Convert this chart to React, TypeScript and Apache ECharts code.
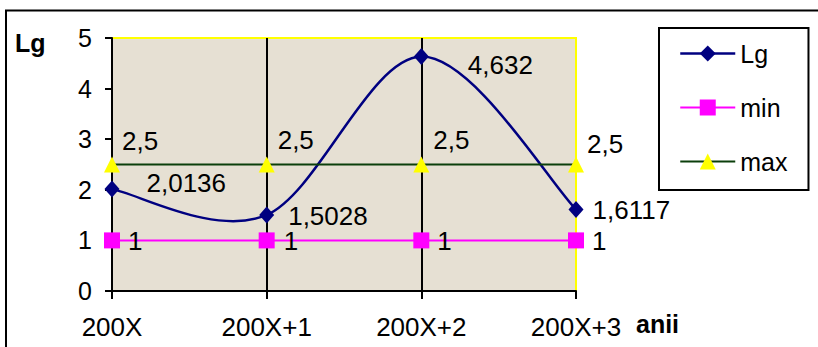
import React, { useEffect, useRef } from "react";
import * as echarts from "echarts";

const categories = ["200X", "200X+1", "200X+2", "200X+3"];
const lgValues = [2.0136, 1.5028, 4.632, 1.6117];
const minValues = [1, 1, 1, 1];
const maxValues = [2.5, 2.5, 2.5, 2.5];
const yTicks = [0, 1, 2, 3, 4, 5];

const lgLabelOffsets = [[27, -6], [14, 1], [39, 8], [9, 1]];
const minLabelOffsets = [[8, 1], [9, 1], [8, 1], [8, 1]];
const maxLabelOffsets = [[2, -24], [3, -25], [4, -25], [3, -21]];

const FONT = "'Liberation Sans', Arial, sans-serif";
const fmt = (v: number) => String(v).replace(".", ",");

function mk(values: number[], offsets: number[][]) {
  return values.map((v, i) => ({
    value: v,
    label: { offset: offsets[i] },
  }));
}

export default function App() {
  const ref = useRef<HTMLDivElement>(null);
  useEffect(() => {
    if (!ref.current) return;
    const chart = echarts.init(ref.current, undefined, { renderer: "svg" });
    const labelBase = {
      show: true,
      position: "right" as const,
      distance: 0,
      color: "#000",
      fontSize: 26,
      lineHeight: 21,
      fontFamily: FONT,
      formatter: (p: any) => fmt(p.value),
    };
    const n = lgValues.length;
    chart.setOption({
      animation: false,
      backgroundColor: "#fff",
      textStyle: { fontFamily: FONT },
      grid: {
        left: 112,
        right: 242,
        top: 38,
        bottom: 56,
        show: true,
        backgroundColor: "#E6E0D3",
        borderColor: "#FFFF00",
        borderWidth: 2,
      },
      legend: {
        orient: "vertical",
        left: 659,
        top: 28,
        padding: [13, 21, 16, 20],
        itemWidth: 55,
        itemHeight: 20,
        itemGap: 29,
        borderColor: "#000",
        borderWidth: 2,
        textStyle: { fontSize: 25, fontFamily: FONT, color: "#000" },
        data: [
          { name: "Lg", lineStyle: { color: "#000080", width: 2.5, opacity: 1 } },
          { name: "min" },
          { name: "max" },
        ],
      },
      xAxis: {
        type: "category",
        data: categories,
        boundaryGap: false,
        axisLine: { show: true, lineStyle: { color: "#000", width: 2 } },
        axisTick: { show: true, length: 8, lineStyle: { color: "#000", width: 2 } },
        axisLabel: { fontSize: 26, fontFamily: FONT, color: "#000", margin: 23 },
        splitLine: {
          show: true,
          lineStyle: { color: ["#000", "#000", "#000", "#FFFF00"], width: 2 },
        },
        z: 3,
      },
      yAxis: {
        type: "value",
        min: yTicks[0],
        max: yTicks[yTicks.length - 1],
        interval: 1,
        axisLine: { show: true, lineStyle: { color: "#000", width: 2 } },
        axisTick: { show: true, length: 7, lineStyle: { color: "#000", width: 2 } },
        axisLabel: { fontSize: 25, fontFamily: FONT, color: "#000", margin: 20 },
        splitLine: { show: false },
        z: 3,
      },
      graphic: [
        {
          type: "rect",
          shape: { x: 6, y: 10.5, width: 1000, height: 600 },
          style: { fill: "none", stroke: "#000", lineWidth: 2 },
          silent: true,
          z: 100,
        },
        {
          type: "text",
          x: 15,
          y: 43,
          style: {
            text: "Lg",
            font: "bold 25px " + FONT,
            fill: "#000",
            verticalAlign: "middle",
          } as any,
          z: 100,
        },
        {
          type: "text",
          x: 636,
          y: 324,
          style: {
            text: "anii",
            font: "bold 25px " + FONT,
            fill: "#000",
            verticalAlign: "middle",
          } as any,
          z: 100,
        },
      ],
      series: [
        {
          name: "Lg curve",
          type: "custom",
          coordinateSystem: "cartesian2d",
          data: lgValues.map((v, i) => [i, v]),
          encode: { x: 0, y: 1 },
          silent: true,
          z: 4,
          renderItem: (params: any, api: any) => {
            const i = params.dataIndex;
            if (i >= n - 1) return null;
            const pt = (j: number) => {
              const k = Math.max(0, Math.min(n - 1, j));
              return api.coord([k, lgValues[k]]);
            };
            const p0 = pt(i - 1);
            const p1 = pt(i);
            const p2 = pt(i + 1);
            const p3 = pt(i + 2);
            return {
              type: "bezierCurve",
              shape: {
                x1: p1[0],
                y1: p1[1],
                x2: p2[0],
                y2: p2[1],
                cpx1: p1[0] + (p2[0] - p0[0]) / 6,
                cpy1: p1[1] + (p2[1] - p0[1]) / 6,
                cpx2: p2[0] - (p3[0] - p1[0]) / 6,
                cpy2: p2[1] - (p3[1] - p1[1]) / 6,
              },
              style: { stroke: "#000080", lineWidth: 2.5, fill: "none" },
            };
          },
        },
        {
          name: "min",
          type: "line",
          data: mk(minValues, minLabelOffsets),
          symbol: "rect",
          symbolSize: 16,
          lineStyle: { color: "#FF00FF", width: 2 },
          itemStyle: { color: "#FF00FF" },
          label: labelBase,
          z: 5,
        },
        {
          name: "max",
          type: "line",
          data: mk(maxValues, maxLabelOffsets),
          symbol: "triangle",
          symbolSize: [16, 16],
          lineStyle: { color: "#0B3F0B", width: 2 },
          itemStyle: { color: "#FFFF00" },
          label: labelBase,
          z: 5,
        },
        {
          name: "Lg",
          type: "line",
          data: mk(lgValues, lgLabelOffsets),
          symbol: "diamond",
          symbolSize: [15, 17],
          lineStyle: { color: "#000080", width: 2.5, opacity: 0 },
          itemStyle: { color: "#000080" },
          label: labelBase,
          z: 6,
        },
      ],
    });
    return () => chart.dispose();
  }, []);
  return (
    <div
      ref={ref}
      style={{ position: "fixed", left: 0, top: 0, width: 818, height: 347 }}
    />
  );
}
